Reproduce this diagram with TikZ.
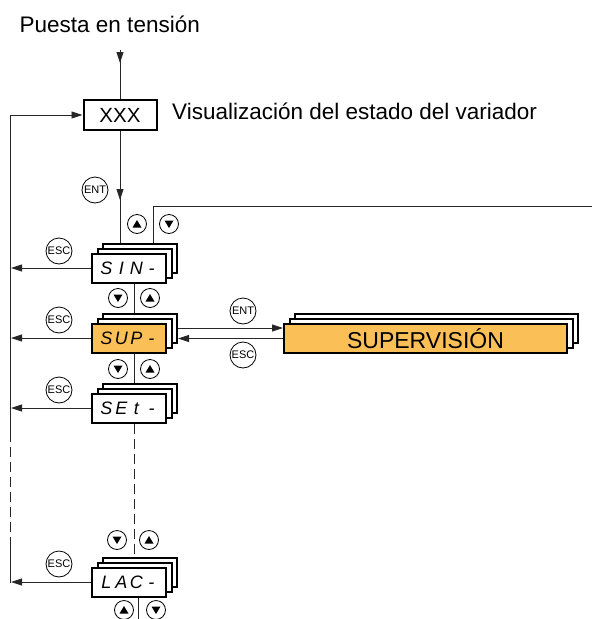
\documentclass[tikz,border=0pt]{standalone}
\usepackage{fontspec}
\setmainfont{Liberation Sans}
\usetikzlibrary{arrows.meta}
\definecolor{dorange}{HTML}{FBBF57}
\newcommand\segcell[1]{\makebox[15pt]{#1}}
\newcommand\segtext[4]{\fontsize{18}{18}\selectfont\itshape\segcell{#1}\segcell{#2}\segcell{#3}\segcell{#4}}
\begin{document}
\begin{tikzpicture}[x=1pt,y=-1pt,
  conn/.style={line width=0.9pt, black!85},
  arr/.style={conn, -{Triangle[length=11pt,width=7pt]}},
  dashline/.style={conn, dash pattern=on 10pt off 5pt},
  dispbox/.style={draw, line width=2pt, fill=white, minimum width=74pt, minimum height=29pt, inner sep=0pt},
  keyc/.style={circle, draw, line width=0.8pt, fill=white, minimum size=26pt, inner sep=0pt, font=\fontsize{11}{11}\selectfont},
  arrc/.style={circle, draw, line width=0.8pt, fill=white, minimum size=19pt, inner sep=0pt},
  upc/.style={arrc, path picture={\fill[black] ([yshift=4pt]path picture bounding box.center) -- ++(4.5pt,-7.5pt) -- ++(-9pt,0pt) -- cycle;}},
  dnc/.style={arrc, path picture={\fill[black] ([yshift=-4pt]path picture bounding box.center) -- ++(4.5pt,7.5pt) -- ++(-9pt,0pt) -- cycle;}},
  lbl/.style={inner sep=0pt, font=\fontsize{22.5}{22.5}\selectfont},
]
\useasboundingbox (0,0) rectangle (592,619);

% texts
\node[lbl, anchor=base west] (pt) at (19.5,32) {Puesta en tensión};
\node[dispbox, minimum width=73pt, minimum height=30pt, font=\fontsize{20.5}{20.5}\selectfont] (xxx) at (120,115) {XXX};
\node[lbl, anchor=base west] (vis) at (172,119) {Visualización del estado del variador};

% stacks
\node[dispbox] (sin3) at (140,258) {};
\node[dispbox] (sin2) at (134.5,263) {};
\node[dispbox] (sin) at (129,268) {\segtext{S}{I}{N}{-}};

\node[dispbox] (sup3) at (140,328) {};
\node[dispbox] (sup2) at (134.5,333) {};
\node[dispbox, fill=dorange] (sup) at (129,338) {\segtext{S}{U}{P}{-}};

\node[dispbox] (set3) at (140,398) {};
\node[dispbox] (set2) at (134.5,403) {};
\node[dispbox] (set) at (129,408) {\segtext{S}{E}{t}{-}};

\node[dispbox] (lac3) at (140,572) {};
\node[dispbox] (lac2) at (134.5,577) {};
\node[dispbox] (lac) at (129,582) {\segtext{L}{A}{C}{-}};

\node[dispbox, minimum width=283pt] (sv3) at (436.5,328.5) {};
\node[dispbox, minimum width=283pt] (sv2) at (431,333.5) {};
\node[dispbox, minimum width=283pt, fill=dorange, font=\fontsize{23}{23}\selectfont] (sv) at (425.5,338.5) {SUPERVISIÓN};

% connectors
\coordinate (pw) at (120,50);
\coordinate (pwtip) at (120,63);
\draw[conn] (pw) -- (xxx.north);
\draw[arr] (pw) -- (pwtip);
\coordinate (enttip) at (120,200);
\draw[conn] (xxx.south) -- (xxx.south |- sin3.north);
\draw[arr] (xxx.south) -- (enttip);
\coordinate (tr) at (592,206);
\draw[conn] ([xshift=13pt]sin3.north) |- (tr);

\coordinate (L) at (11,0);
\foreach \n in {sin,sup,set,lac} \draw[arr] (\n.west) -- (\n.west -| L);

\coordinate (lt) at (10,115);
\coordinate (ls1) at (10,432);
\coordinate (ls2) at (10,540);
\coordinate (lb) at (10,583);
\draw[arr] (ls1) -- (lt) -- (xxx.west);
\draw[dashline] (ls1) -- (ls2);
\draw[conn] (ls2) -- (lb);

\draw[conn] (sin.south -| sin2.center) -- (sup3.north -| sin2.center);
\draw[conn] (sup.south -| sup2.center) -- (set3.north -| sup2.center);
\draw[dashline] (set.south -| set2.center) -- (lac3.north -| set2.center);
\coordinate (bot) at (138,619);
\draw[conn] (lac.south -| bot) -- (bot);

\draw[arr] (sup3.east) -- (sup3.east -| sv.west);
\draw[arr] (sv.west) -- (sv.west -| sup3.east);

% key circles
\node[keyc] (ent1) at (95,190) {ENT};
\node[keyc] (esc1) at (59,251) {ESC};
\node[keyc] (esc2) at (59,320) {ESC};
\node[keyc] (esc3) at (59,390) {ESC};
\node[keyc] (esc4) at (59,564) {ESC};
\node[keyc] (ent2) at (243,311) {ENT};
\node[keyc] (esc5) at (243,355) {ESC};

\node[upc] (u1) at (137,224) {}; \node[dnc] (d1) at (169,224) {};
\node[dnc] (d2) at (118,298) {}; \node[upc] (u2) at (150,298) {};
\node[dnc] (d3) at (118,369) {}; \node[upc] (u3) at (150,369) {};
\node[dnc] (d4) at (117,540) {}; \node[upc] (u4) at (149,540) {};
\node[upc] (u5) at (124,610) {}; \node[dnc] (d5) at (156,610) {};
\end{tikzpicture}
\end{document}
